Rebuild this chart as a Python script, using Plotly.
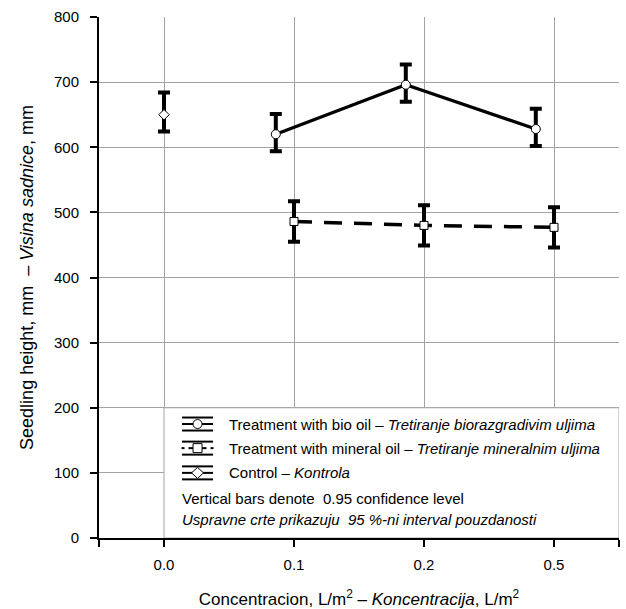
import plotly.graph_objects as go

# concentration levels (L/m2) shown as equally spaced categories
categories = ['0.0', '0.1', '0.2', '0.5']

control_conc = ['0.0']
control_mean = [650]
control_up = [34]
control_down = [26]

bio_conc = ['0.1', '0.2', '0.5']
bio_mean = [620, 696, 628]
bio_up = [31, 31, 31]
bio_down = [26, 26, 26]

mineral_conc = ['0.1', '0.2', '0.5']
mineral_mean = [486, 480, 477]
mineral_ci = [31, 31, 31]

FONT = 'Liberation Sans, Arial, sans-serif'
GRID = '#a3a3a3'
bio_shift = -0.14


def pos(labels, shift=0.0):
    return [categories.index(c) + shift for c in labels]


err_style = dict(type='data', symmetric=False, color='black', thickness=4, width=6)

fig = go.Figure()
fig.add_trace(go.Scatter(
    x=pos(bio_conc, bio_shift), y=bio_mean, mode='lines+markers',
    line=dict(color='black', width=3.2),
    marker=dict(symbol='circle', size=9, color='white', line=dict(color='black', width=1)),
    error_y=dict(array=bio_up, arrayminus=bio_down, **err_style)))
fig.add_trace(go.Scatter(
    x=pos(mineral_conc), y=mineral_mean, mode='lines+markers',
    line=dict(color='black', width=3.5, dash='18px,12px'),
    marker=dict(symbol='square', size=8, color='white', line=dict(color='black', width=1)),
    error_y=dict(array=mineral_ci, arrayminus=mineral_ci, **err_style)))
fig.add_trace(go.Scatter(
    x=pos(control_conc), y=control_mean, mode='markers',
    marker=dict(symbol='diamond', size=8, color='white', line=dict(color='black', width=1)),
    error_y=dict(array=control_up, arrayminus=control_down, **err_style)))

# legend box inside the plot
fig.add_shape(type='rect', xref='x', yref='y', x0=0, x1=3.5, y0=0, y1=200,
              fillcolor='white', line=dict(color=GRID, width=1), layer='between')

legend_rows = [
    ('circle', 'solid', 'Treatment with bio oil – <i>Tretiranje biorazgradivim uljima</i>', 175),
    ('square', 'dash', 'Treatment with mineral oil – <i>Tretiranje mineralnim uljima</i>', 138),
    ('diamond', 'solid', 'Control – <i>Kontrola</i>', 100),
]
icon_x = 0.258
text_x = 0.485
note_x = 0.125
for sym, style, label, yy in legend_rows:
    common = dict(xref='x', yref='y', xsizemode='pixel', ysizemode='pixel',
                  xanchor=icon_x, yanchor=yy, layer='above')
    for dy in (6.5, -6.5):
        fig.add_shape(type='line', x0=-15.5, x1=15.5, y0=dy, y1=dy,
                      line=dict(color='black', width=2), **common)
    if style == 'solid':
        segs = [(-15.5, -4.5), (4.5, 15.5)]
    else:
        segs = [(-16, -13), (-9, -4.5), (4.5, 9), (13, 16)]
    for a, b in segs:
        fig.add_shape(type='line', x0=a, x1=b, y0=0, y1=0,
                      line=dict(color='black', width=2), **common)
    mk = dict(fillcolor='white', line=dict(color='black', width=1))
    if sym == 'circle':
        fig.add_shape(type='circle', x0=-4.5, x1=4.5, y0=-4.5, y1=4.5, **mk, **common)
    elif sym == 'square':
        fig.add_shape(type='rect', x0=-4.5, x1=4.5, y0=-4.5, y1=4.5, **mk, **common)
    else:
        fig.add_shape(type='path', path='M -6 0 L 0 5.5 L 6 0 L 0 -5.5 Z', **mk, **common)
    fig.add_annotation(x=text_x, y=yy, xref='x', yref='y', text=label, showarrow=False,
                       xanchor='left', yanchor='middle', font=dict(size=15, color='black'))

fig.add_annotation(x=note_x, y=60, xref='x', yref='y', showarrow=False,
                   text='Vertical bars denote&nbsp; 0.95 confidence level',
                   xanchor='left', yanchor='middle', font=dict(size=15, color='black'))
fig.add_annotation(x=note_x, y=29, xref='x', yref='y', showarrow=False,
                   text='<i>Uspravne crte prikazuju&nbsp; 95 %-ni interval pouzdanosti</i>',
                   xanchor='left', yanchor='middle', font=dict(size=15, color='black'))

fig.update_layout(
    width=626, height=609,
    margin=dict(l=99, r=7, t=17, b=71),
    paper_bgcolor='white', plot_bgcolor='white',
    font=dict(family=FONT, size=15, color='black'),
    showlegend=False,
    xaxis=dict(range=[-0.5, 3.5], tickmode='array',
               tickvals=[-0.5] + pos(categories) + [3.5],
               ticktext=[''] + categories + [''],
               showgrid=True, gridcolor=GRID, gridwidth=1,
               showline=True, linecolor='black', linewidth=2,
               ticks='outside', ticklen=7, tickwidth=2, tickcolor='black',
               zeroline=False, ticklabelstandoff=5, automargin=False,
               title=dict(text='Concentracion, L/m<sup>2</sup> – <i>Koncentracija</i>, L/m<sup>2</sup>',
                          font=dict(size=17), standoff=21)),
    yaxis=dict(range=[0, 800], dtick=100,
               showgrid=True, gridcolor=GRID, gridwidth=1,
               showline=True, linecolor='black', linewidth=2,
               ticks='outside', ticklen=7, tickwidth=2, tickcolor='black',
               zeroline=False, ticklabelstandoff=8, automargin=False,
               title=dict(text='Seedling height, mm&nbsp; – <i>Visina sadnice</i>, mm',
                          font=dict(size=18), standoff=16)),
)

fig.write_html("out.html", config={'displayModeBar': False},
               post_script="document.body.style.margin='0px';")
